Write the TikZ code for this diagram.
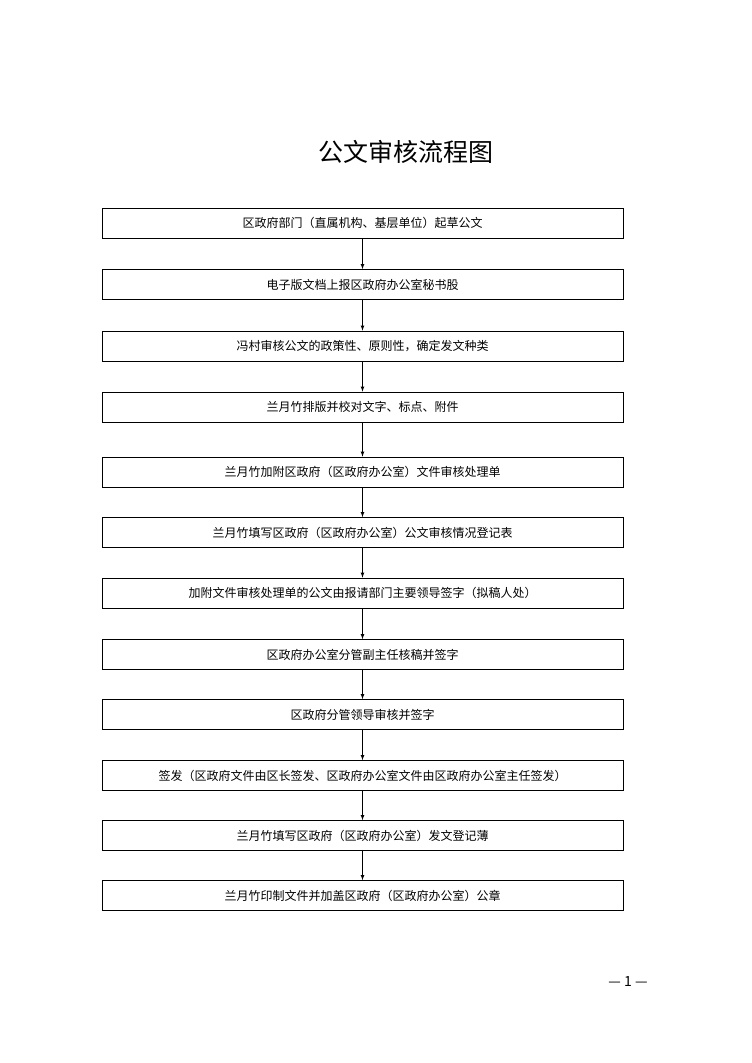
\documentclass[tikz,border=0pt]{standalone}
\usepackage{fontspec}
\setmainfont{Noto Sans CJK SC}
\tikzset{every picture/.style={line width=0.75pt}}
\tikzset{flowbox/.style={draw, minimum width=521pt, minimum height=30pt, inner sep=0pt, font=\fontsize{12}{14}\selectfont}}
\begin{document}
\begin{tikzpicture}[x=1pt,y=1pt,yscale=-1,xscale=1]
		\useasboundingbox (0,0) rectangle (752,1063);

		% Title
		\draw (406,152) node (title) {\fontsize{25}{28}\selectfont 公文审核流程图};

		% Steps
		\draw (362.5,223) node [flowbox] (s1) {区政府部门（直属机构、基层单位）起草公文};
		\draw (362.5,284.5) node [flowbox] (s2) {电子版文档上报区政府办公室秘书股};
		\draw (362.5,346) node [flowbox] (s3) {冯村审核公文的政策性、原则性，确定发文种类};
		\draw (362.5,407) node [flowbox] (s4) {兰月竹排版并校对文字、标点、附件};
		\draw (362.5,472) node [flowbox] (s5) {兰月竹加附区政府（区政府办公室）文件审核处理单};
		\draw (362.5,532.5) node [flowbox] (s6) {兰月竹填写区政府（区政府办公室）公文审核情况登记表};
		\draw (362.5,593) node [flowbox] (s7) {加附文件审核处理单的公文由报请部门主要领导签字（拟稿人处）};
		\draw (362.5,654.5) node [flowbox] (s8) {区政府办公室分管副主任核稿并签字};
		\draw (362.5,714.5) node [flowbox] (s9) {区政府分管领导审核并签字};
		\draw (362.5,775.5) node [flowbox] (s10) {签发（区政府文件由区长签发、区政府办公室文件由区政府办公室主任签发）};
		\draw (362.5,835.5) node [flowbox] (s11) {兰月竹填写区政府（区政府办公室）发文登记薄};
		\draw (362.5,895.5) node [flowbox] (s12) {兰月竹印制文件并加盖区政府（区政府办公室）公章};

		% Arrows
		\foreach \a/\b in {s1/s2,s2/s3,s3/s4,s4/s5,s5/s6,s6/s7,s7/s8,s8/s9,s9/s10,s10/s11,s11/s12}
		\draw [-latex] (\a) -- (\b);

		% Page number
		\draw (628,981) node (page) {\fontsize{14}{16}\selectfont — 1 —};

\end{tikzpicture}
\end{document}
